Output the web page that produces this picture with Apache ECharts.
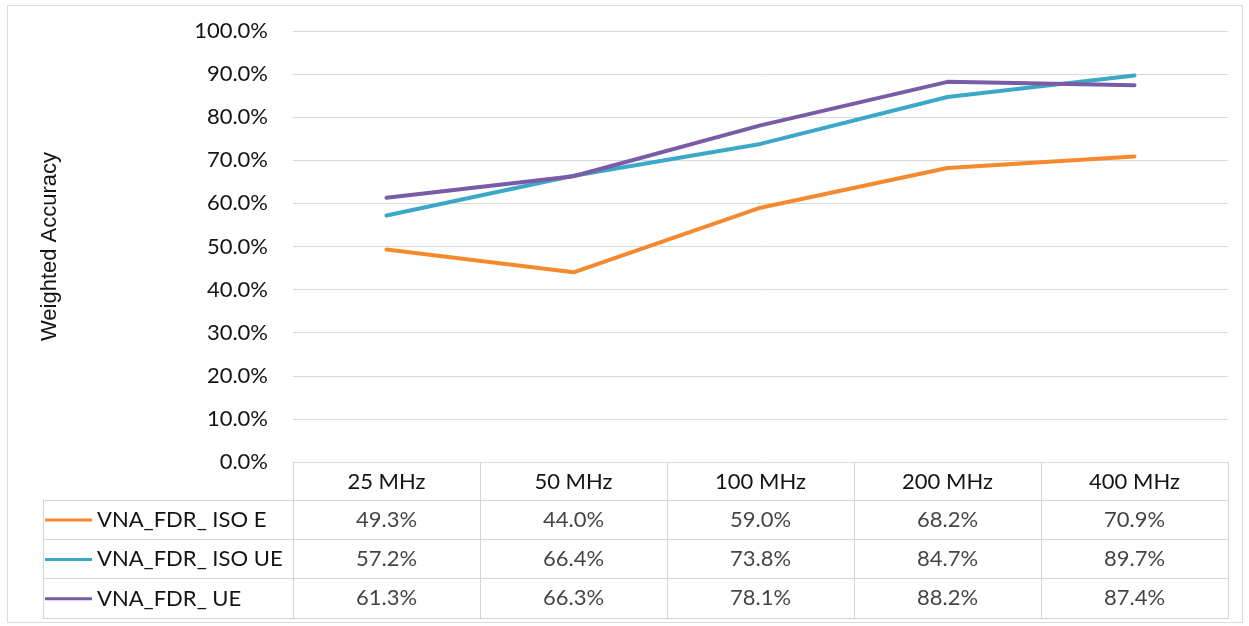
<!DOCTYPE html>
<html>
<head>
<meta charset="utf-8">
<script src="https://cdn.jsdelivr.net/npm/echarts@6/dist/echarts.min.js"></script>
<style>
  html, body { margin: 0; padding: 0; background: #fff; }
  #chart { width: 1249px; height: 626px; }
  #frame { position: absolute; left: 7px; top: 5px; width: 1234px; height: 616px;
           border: 1px solid #dcdcdc; pointer-events: none; }
</style>
</head>
<body>
<div id="chart"></div>
<div id="frame"></div>
<script>
// Frequency bands (categories along the x axis / table header)
const categories = ['25 MHz', '50 MHz', '100 MHz', '200 MHz', '400 MHz'];

// Series names as shown in the data table
const seriesNames = ['VNA_FDR_ ISO E', 'VNA_FDR_ ISO UE', 'VNA_FDR_ UE'];

// Weighted accuracy in percent
const isoE  = [49.3, 44.0, 59.0, 68.2, 70.9];
const isoUE = [57.2, 66.4, 73.8, 84.7, 89.7];
const ue    = [61.3, 66.3, 78.1, 88.2, 87.4];

// Value axis ticks
const yTicks = [0, 10, 20, 30, 40, 50, 60, 70, 80, 90, 100];

const seriesValues = [isoE, isoUE, ue];
const colors = ['#F5892E', '#3CA8C8', '#7A5BA6'];

const FONT = 'Lato, "Open Sans", sans-serif';
const TEXT = '#141414';
const GRIDLINE = '#d9d9d9';
const TABLELINE = '#d4d4d4';

// Cells of the data table: [column, row, value]
const tableCells = [];
seriesValues.forEach((vals, r) => vals.forEach((v, c) => tableCells.push([c, r, v])));

const chart = echarts.init(document.getElementById('chart'), null, { renderer: 'canvas' });

chart.setOption({
  animation: false,
  backgroundColor: '#fff',
  grid: [
    // plot area
    { left: 293, right: 21, top: 31, bottom: 164 },
    // data table values
    { left: 293, right: 21, top: 500, height: 118 },
    // data table key column
    { left: 43, width: 250, top: 500, height: 118 }
  ],
  legend: {
    orient: 'vertical',
    left: 45,
    top: 509,
    padding: 0,
    itemGap: 17.4,
    itemWidth: 47,
    itemHeight: 3,
    icon: 'rect',
    selectedMode: false,
    data: seriesNames,
    textStyle: { fontFamily: FONT, fontSize: 22, lineHeight: 22, color: TEXT, padding: [0, 0, 0, 0] }
  },
  xAxis: [
    {
      gridIndex: 0,
      type: 'category',
      data: categories,
      boundaryGap: true,
      axisLine: { show: true, lineStyle: { color: GRIDLINE, width: 1 } },
      axisTick: { show: true, interval: 0, length: 38, lineStyle: { color: TABLELINE } },
      axisLabel: { interval: 0, margin: 9, fontFamily: FONT, fontSize: 22, color: TEXT },
      splitLine: { show: false }
    },
    {
      gridIndex: 1,
      type: 'category',
      data: categories,
      boundaryGap: true,
      axisLine: { show: true, lineStyle: { color: TABLELINE } },
      axisTick: { show: false },
      axisLabel: { show: false },
      splitLine: { show: true, interval: 0, lineStyle: { color: TABLELINE } }
    },
    {
      gridIndex: 2,
      type: 'category',
      data: [''],
      boundaryGap: true,
      axisLine: { show: true, lineStyle: { color: TABLELINE } },
      axisTick: { show: false },
      axisLabel: { show: false },
      splitLine: { show: true, interval: 0, lineStyle: { color: TABLELINE } }
    }
  ],
  yAxis: [
    {
      gridIndex: 0,
      type: 'value',
      min: yTicks[0],
      max: yTicks[yTicks.length - 1],
      interval: 10,
      name: 'Weighted Accuracy',
      nameLocation: 'middle',
      nameGap: 232,
      nameTextStyle: { fontFamily: '"Liberation Sans", Arial, sans-serif', fontSize: 22, color: TEXT },
      axisLine: { show: false },
      axisTick: { show: false },
      axisLabel: { margin: 25, fontFamily: FONT, fontSize: 22, color: TEXT,
                   formatter: v => v.toFixed(1) + '%' },
      splitLine: { show: true, lineStyle: { color: GRIDLINE, width: 1 } }
    },
    {
      gridIndex: 1,
      type: 'category',
      data: seriesNames,
      inverse: true,
      boundaryGap: true,
      axisLine: { show: true, lineStyle: { color: TABLELINE } },
      axisTick: { show: false },
      axisLabel: { show: false },
      splitLine: { show: true, interval: 0, lineStyle: { color: TABLELINE } }
    },
    {
      gridIndex: 2,
      type: 'category',
      data: seriesNames,
      inverse: true,
      boundaryGap: true,
      axisLine: { show: true, lineStyle: { color: TABLELINE } },
      axisTick: { show: false },
      axisLabel: { show: false },
      splitLine: { show: true, interval: 0, lineStyle: { color: TABLELINE } }
    }
  ],
  series: [
    ...seriesNames.map((name, i) => ({
      name,
      type: 'line',
      xAxisIndex: 0,
      yAxisIndex: 0,
      data: seriesValues[i],
      symbol: 'none',
      smooth: false,
      color: colors[i],
      lineStyle: { width: 4, color: colors[i], cap: 'round', join: 'round' },
      z: 3 + i
    })),
    {
      name: 'table',
      type: 'scatter',
      xAxisIndex: 1,
      yAxisIndex: 1,
      data: tableCells,
      symbolSize: 0,
      silent: true,
      label: {
        show: true,
        position: 'inside',
        fontFamily: FONT,
        fontSize: 22,
        color: TEXT,
        formatter: p => p.value[2].toFixed(1) + '%'
      }
    }
  ]
});
</script>
</body>
</html>
